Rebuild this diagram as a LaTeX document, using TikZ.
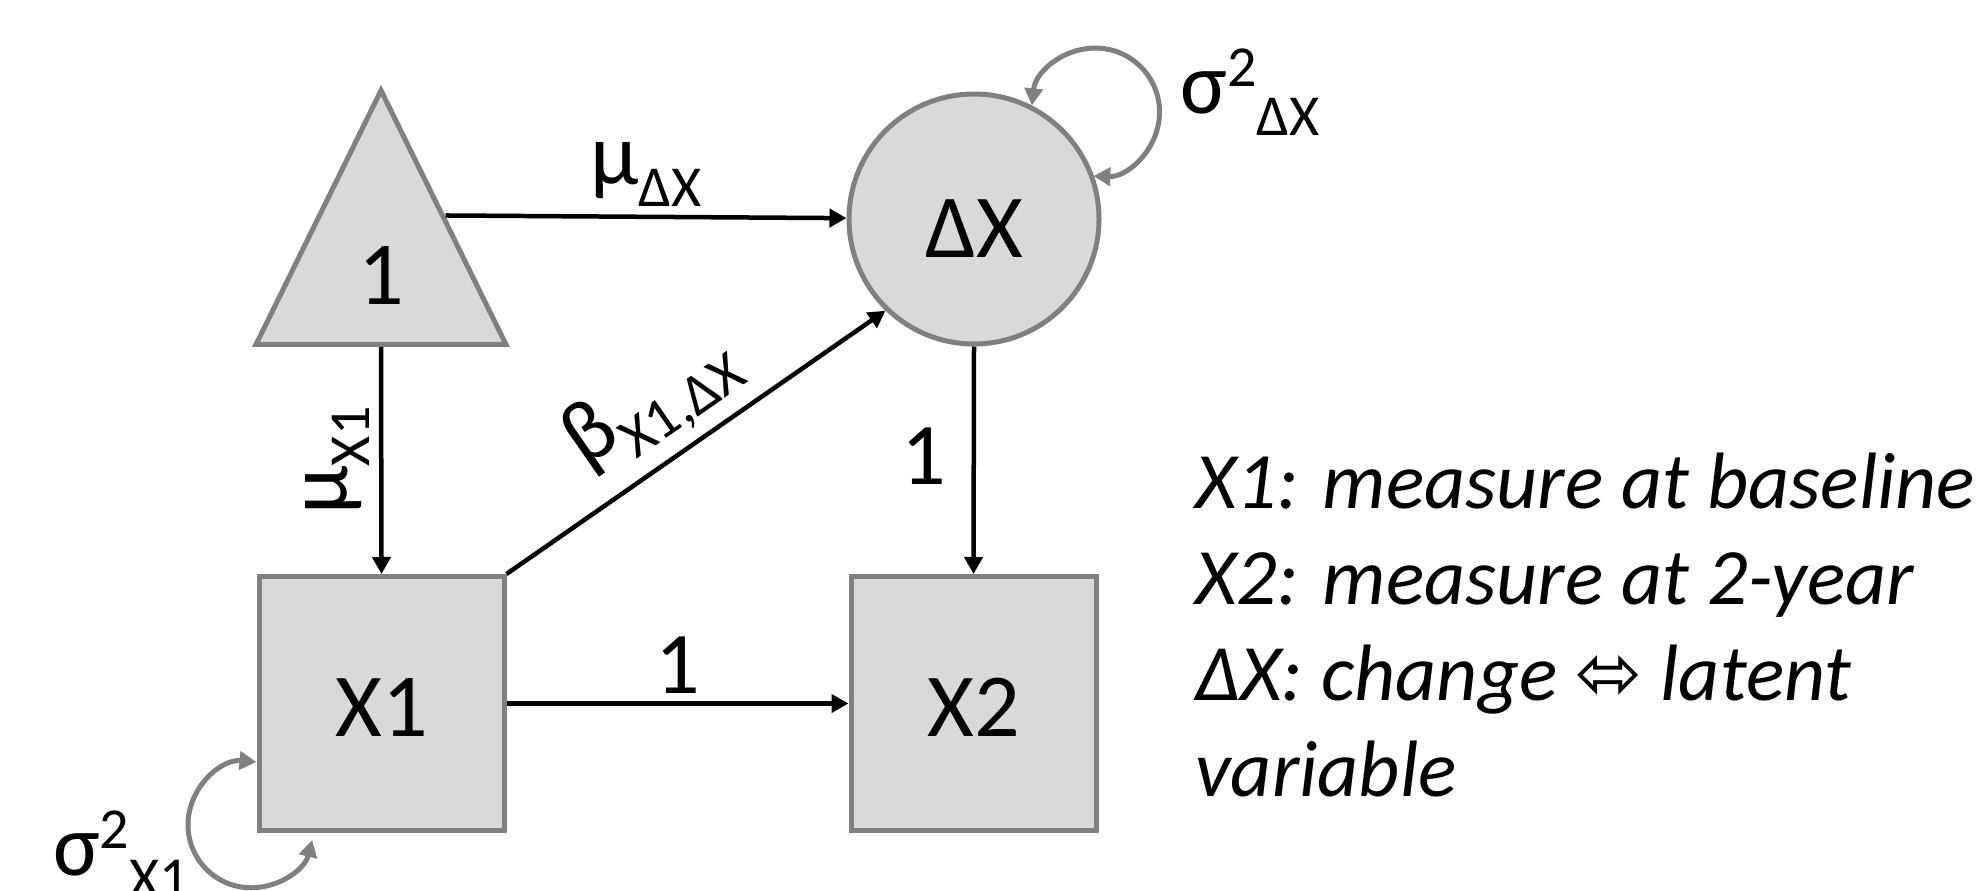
\documentclass[tikz,border=0pt]{standalone}
\usepackage{fontspec}
\setmainfont{Carlito}
\newfontfamily\arrowfont{DejaVu Sans}
\usetikzlibrary{arrows.meta,calc,shapes.geometric}
\definecolor{semFill}{HTML}{D9D9D9}
\definecolor{semLine}{HTML}{808080}
\newcommand\semsup[1]{\raisebox{0.3em}{\fontsize{58}{58}\selectfont #1}}
\newcommand\semsub[1]{\raisebox{-0.25em}{\fontsize{58}{58}\selectfont #1}}
\begin{document}
\begin{tikzpicture}[x=1pt,y=-1pt,>={Triangle[length=17pt,width=18pt]}]
\path[fill=white] (0,0) rectangle (1984,891);
\useasboundingbox (0,0) rectangle (1984,891);
\tikzset{semnode/.style={draw=semLine,fill=semFill,line width=5pt,inner sep=0pt,font=\fontsize{90}{100}\selectfont,text height=76pt,text depth=0pt},
  obsbox/.style={semnode,rectangle,minimum width=245pt,minimum height=254pt,text height=66pt},
  latentcirc/.style={semnode,circle,minimum size=250pt,text height=76pt},
  consttri/.style={semnode,isosceles triangle,isosceles triangle stretches,shape border rotate=90,minimum width=250pt,minimum height=254pt},
  regarrow/.style={draw=black,line width=4.5pt,->},
  varloop/.style={draw=semLine,line width=5pt,<->},
  coef/.style={inner sep=0pt,font=\fontsize{88}{96}\selectfont}}
% nodes
\node[consttri,anchor=south] (one) at (381,347) {1};
\node[latentcirc] (dx) at (974,219) {ΔX};
\node[obsbox] (x1) at (381.5,703.5) {X1};
\node[obsbox] (x2) at (973.5,703.5) {X2};
% paths
\draw[regarrow] (one.right side) -- node[coef,above=8pt] (muDX) {μ\semsub{ΔX}} (dx);
\draw[regarrow] (one.south) -- (x1.north);
\node[coef,rotate=90,anchor=south] (muXone) at ($(one.south)!0.5!(x1.north)+(-12,0)$) {μ\semsub{X1}};
\draw[regarrow] (x1.north east) -- node[coef,sloped,above=10pt,pos=0.47] (beta) {β\semsub{X1,ΔX}} (dx.226);
\draw[regarrow] (dx.south) -- node[coef,left=25pt,pos=0.48] (loadDX) {1} (x2.north);
\draw[regarrow] (x1.east) -- node[coef,above=8pt] (autoX) {1} (x2.west);
% variances
\draw[varloop] ($(x1.south west)+(0,-71)$) arc[start angle=-85,end angle=-346,radius=63];
\node[coef,anchor=base west] (sigXone) at (53,875) {σ\semsup{2}\semsub{X1}};
\draw[varloop] (dx.63) arc[start angle=186,end angle=452,radius=64];
\node[coef,anchor=base west] (sigDX) at (1180,113) {σ\semsup{2}\semsub{ΔX}};
% key
\node[anchor=base west,align=left,inner sep=0pt,font=\fontsize{80}{96}\selectfont\itshape] (key) at (1195,796) {X1: measure at baseline\\X2: measure at 2-year\\ΔX: change {\arrowfont\upshape ⬄} latent\\variable};
\end{tikzpicture}
\end{document}
